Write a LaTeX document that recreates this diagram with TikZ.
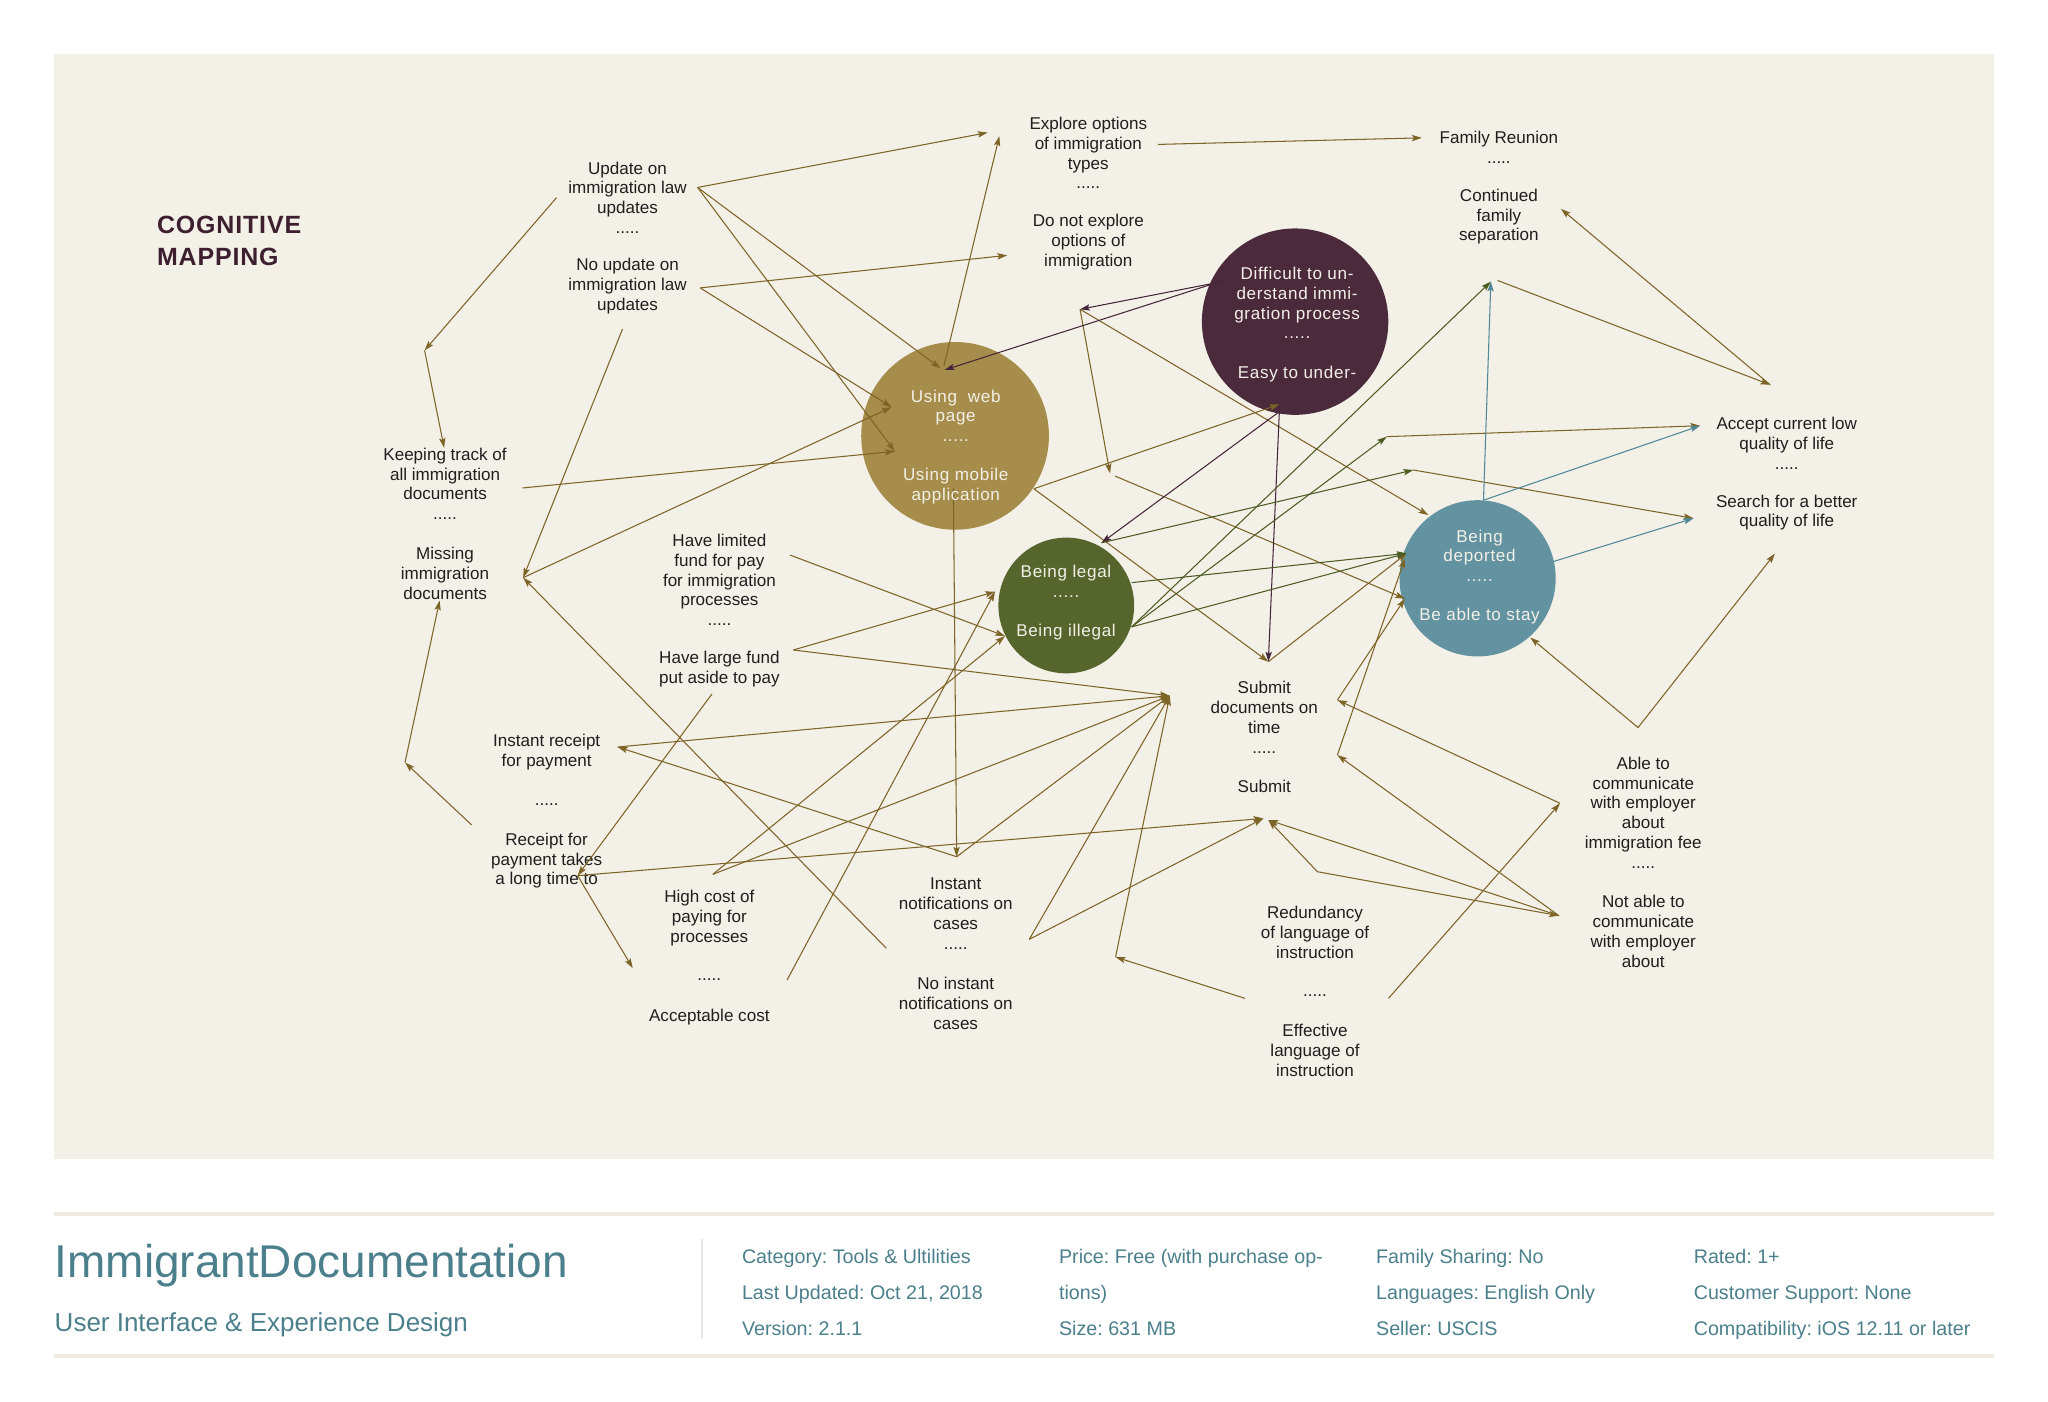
\documentclass[tikz,border=0pt]{standalone}
\usepackage{fontspec}
\setmainfont{Liberation Sans}
\newfontfamily\circfont{Liberation Sans}[LetterSpace=4]
\newfontfamily\headfont{Liberation Sans}[LetterSpace=3.5]
\usetikzlibrary{arrows.meta}
\frenchspacing
\definecolor{paper}{HTML}{F3F0E8}
\definecolor{rulec}{HTML}{EFEBE1}
\definecolor{ink}{HTML}{1F1F1F}
\definecolor{goldline}{HTML}{7D6427}
\definecolor{goldball}{HTML}{A68D4B}
\definecolor{plumball}{HTML}{4B2A3B}
\definecolor{plumline}{HTML}{45263A}
\definecolor{oliveball}{HTML}{56652B}
\definecolor{oliveline}{HTML}{4C5C22}
\definecolor{tealball}{HTML}{6393A0}
\definecolor{tealline}{HTML}{4F8796}
\definecolor{headplum}{HTML}{3D1F30}
\definecolor{foot}{HTML}{4A7F8B}
\tikzset{%
  lbl/.style     = {align=center, inner sep=0pt, text=ink,%
                    font=\fontsize{13}{15.1}\selectfont},%
  ball/.style    = {circle, inner sep=0pt, draw=none, minimum size=#1},%
  balltxt/.style = {align=center, inner sep=0pt, text=paper,%
                    font=\circfont\fontsize{13}{15}\selectfont},%
  info/.style    = {anchor=base west, inner sep=0pt, text=foot,%
                    font=\fontsize{15}{18}\selectfont},%
  tip/.style     = {-{Stealth[length=7.5pt,width=4.8pt,inset=1.5pt]},%
                    line width=0.8pt}%
}

\begin{document}
\begin{tikzpicture}[x=1pt,y=-1pt,
	garr/.style = {tip, draw=goldline},
	parr/.style = {tip, draw=plumline},
	oarr/.style = {tip, draw=oliveline},
	tarr/.style = {tip, draw=tealline}]
	\useasboundingbox (0,0) rectangle (1560,1067.2);
	\fill[paper] (41,41) rectangle (1519,883);
	\node[anchor=west, align=left, inner sep=0pt, text=headplum,
		font=\headfont\bfseries\fontsize{19}{24.1}\selectfont] (head) at (119.4,183.7) {COGNITIVE\\MAPPING};
	% circles
	\node[ball=143, fill=goldball] (web) at (727.5,332) {};
	\node[ball=142, fill=plumball] (hard) at (986.5,245) {};
	\node[ball=103.4, fill=oliveball] (legal) at (812.2,461.2) {};
	\node[ball=119, fill=tealball] (deport) at (1125.5,440.5) {};
	% labels
	\node[lbl] (upd) at (478,150.5) {Update on\\immigration law\\updates\\.....};
	\node[lbl] (noupd) at (478,217.8) {No update on\\immigration law\\updates};
	\node[lbl] (expl) at (829,116.5) {Explore options\\of immigration\\types\\.....};
	\node[lbl] (noexp) at (829,184.3) {Do not explore\\options of\\immigration};
	\node[lbl] (fam) at (1141.7,112) {Family Reunion\\.....};
	\node[lbl] (cont) at (1141.7,165.1) {Continued\\family\\separation};
	\node[lbl] (keep) at (339,368.5) {Keeping track of\\all immigration\\documents\\.....};
	\node[lbl] (miss) at (339,436.7) {Missing\\immigration\\documents};
	\node[lbl] (lim) at (548,441.7) {Have limited\\fund for pay\\for immigration\\processes\\.....};
	\node[lbl] (large) at (548,509.5) {Have large fund\\put aside to pay};
	\node[lbl] (instr) at (416.4,572.6) {Instant receipt\\for payment};
	\node[lbl] (recdots) at (416.4,613) {.....};
	\node[lbl] (rec) at (416.4,655.6) {Receipt for\\payment takes\\a long time to};
	\node[lbl] (high) at (540.3,699.5) {High cost of\\paying for\\processes};
	\node[lbl] (highdots) at (540.3,746.5) {.....};
	\node[lbl] (cheap) at (540.3,774.4) {Acceptable cost};
	\node[lbl] (instn) at (728,696) {Instant\\notifications on\\cases\\.....};
	\node[lbl] (noinst) at (728,764.2) {No instant\\notifications on\\cases};
	\node[lbl] (subm) at (963,546.4) {Submit\\documents on\\time\\.....};
	\node[lbl] (subm2) at (963,598.7) {Submit};
	\node[lbl] (red) at (1001.7,710.3) {Redundancy\\of language of\\instruction};
	\node[lbl] (reddots) at (1001.7,758) {.....};
	\node[lbl] (eff) at (1001.7,800.3) {Effective\\language of\\instruction};
	\node[lbl] (acc) at (1361,337.7) {Accept current low\\quality of life\\.....};
	\node[lbl] (srch) at (1361,390.5) {Search for a better\\quality of life};
	\node[lbl] (able) at (1251.7,619) {Able to\\communicate\\with employer\\about\\immigration fee\\.....};
	\node[lbl] (notab) at (1251.7,709.5) {Not able to\\communicate\\with employer\\about};
	% connector ends
	\coordinate (updE) at (531.4,142.8);
	\coordinate (updW) at (423.9,150.6);
	\coordinate (noupdE) at (533.3,219.3);
	\coordinate (noupdS) at (474.2,250.6);
	\coordinate (explA) at (752.3,101);
	\coordinate (explB) at (761.2,103.7);
	\coordinate (explE) at (882,110);
	\coordinate (famW) at (1083,105);
	\coordinate (noexpW) at (767.2,194.5);
	\coordinate (webT) at (716.5,280.6);
	\coordinate (webP) at (719.5,281.8);
	\coordinate (webTop) at (719,278.8);
	\coordinate (webW1) at (681.6,343.8);
	\coordinate (webW2) at (679.2,310.1);
	\coordinate (webB) at (726.2,372);
	\coordinate (webE) at (787.5,372.3);
	\coordinate (bendA) at (323.4,266.9);
	\coordinate (keepN) at (338.3,341.1);
	\coordinate (keepE) at (398,371.7);
	\coordinate (missE) at (398.5,440);
	\coordinate (missS) at (334.9,457.4);
	\coordinate (bendB) at (308.5,580.8);
	\coordinate (recNW) at (359.3,628.4);
	\coordinate (recE) at (440,667);
	\coordinate (noinstNW) at (675.1,722.3);
	\coordinate (limE) at (601.8,422.8);
	\coordinate (largeE) at (604.3,495.1);
	\coordinate (largeS) at (542.3,528.6);
	\coordinate (grnUL) at (757.9,450.7);
	\coordinate (grnLL) at (765.5,484.5);
	\coordinate (highD) at (482,737.5);
	\coordinate (instrE) at (470.5,569);
	\coordinate (instnN) at (728.7,652.6);
	\coordinate (highN) at (543,666);
	\coordinate (cheapNE) at (599.5,746.5);
	\coordinate (subD) at (891,530);
	\coordinate (subL1) at (962.3,623.4);
	\coordinate (subL2) at (966.1,624.6);
	\coordinate (subT) at (966.1,504);
	\coordinate (hardB) at (974.5,308);
	\coordinate (hardS) at (974.5,313.6);
	\coordinate (hardW1) at (921.7,216.3);
	\coordinate (hardW2) at (933,213.3);
	\coordinate (pa) at (822.7,235.6);
	\coordinate (pa2) at (845.5,360.6);
	\coordinate (pb) at (849.3,362.6);
	\coordinate (depUL) at (1088,392.3);
	\coordinate (depL1) at (1071.5,421.5);
	\coordinate (depL2) at (1070.2,456);
	\coordinate (depL3) at (1070.2,425.3);
	\coordinate (legT) at (839,413.5);
	\coordinate (legE1) at (862,443.8);
	\coordinate (legE2) at (862,477.5);
	\coordinate (gA) at (1076.6,358);
	\coordinate (gB) at (1056.3,332.6);
	\coordinate (contS) at (1135.6,214.5);
	\coordinate (contB) at (1140.7,213.6);
	\coordinate (depN) at (1130,381);
	\coordinate (depE) at (1183,427.8);
	\coordinate (accW) at (1295,324.3);
	\coordinate (srchW) at (1290,394.8);
	\coordinate (fp) at (1348.4,293.1);
	\coordinate (contSE) at (1189,159.1);
	\coordinate (ableB) at (1247.7,554.2);
	\coordinate (depSE) at (1165.6,485.6);
	\coordinate (srchS) at (1352,421.7);
	\coordinate (ableW) at (1188.3,611.9);
	\coordinate (ja) at (1018.7,533.2);
	\coordinate (notabW) at (1187.5,697.5);
	\coordinate (jb) at (1018.7,575.1);
	\coordinate (effNE) at (1057.6,760.5);
	\coordinate (effNW) at (948.4,760.5);
	\coordinate (jc) at (849.7,729);
	\coordinate (redW) at (784,715.5);
	\coordinate (jd) at (1003.5,664);
	% connectors
	\path (updE) edge[garr] (explA) edge[garr] (webT) edge[garr] (webW1);
	\path (noupdE) edge[garr] (noexpW) edge[garr] (webW2);
	\path (updW) edge[garr] (bendA);
	\path (bendA) edge[garr] (keepN);
	\path (noupdS) edge[garr] (missE);
	\path (keepE) edge[garr] (webW1);
	\path (missE) edge[garr] (webW2);
	\path (noinstNW) edge[garr] (missE);
	\path (bendB) edge[garr] (missS);
	\path (recNW) edge[garr] (bendB);
	\path (limE) edge[garr] (grnLL);
	\path (largeE) edge[garr] (grnUL) edge[garr] (subD);
	\path (largeS) edge[garr] (recE);
	\path (recE) edge[garr] (highD) edge[garr] (subL1);
	\path (instnN) edge[garr] (instrE) edge[garr] (subD);
	\path (instrE) edge[garr] (subD);
	\path (webB) edge[garr] (instnN);
	\path (highN) edge[garr] (grnLL) edge[garr] (subD);
	\path (cheapNE) edge[garr] (grnUL);
	\path (explE) edge[garr] (famW);
	\path (webTop) edge[garr] (explB);
	\path (webE) edge[garr] (hardB) edge[garr] (subT);
	\path (pa) edge[garr] (pa2) edge[garr] (depUL);
	\path (pb) edge[garr] (depL2);
	\path (gA) edge[garr] (srchW);
	\path (gB) edge[garr] (accW);
	\path (contB) edge[garr] (fp);
	\path (fp) edge[garr] (contSE);
	\path (ableB) edge[garr] (depSE) edge[garr] (srchS);
	\path (ableW) edge[garr] (ja);
	\path (ja) edge[garr] (depL2);
	\path (notabW) edge[garr] (jb) edge[garr] (subL2);
	\path (jb) edge[garr] (depL3);
	\path (subT) edge[garr] (depL1);
	\path (effNE) edge[garr] (ableW);
	\path (effNW) edge[garr] (jc);
	\path (jc) edge[garr] (subD);
	\path (redW) edge[garr] (subL1) edge[garr] (subD);
	\path (jd) edge[garr] (subL2) edge[garr] (notabW);
	\path (hardW1) edge[parr] (pa);
	\path (hardW2) edge[parr] (webP);
	\path (hardS) edge[parr] (subT) edge[parr] (legT);
	\path (legT) edge[oarr] (gA);
	\path (legE1) edge[oarr] (depL1);
	\path (legE2) edge[oarr] (depL1) edge[oarr] (gB) edge[oarr] (contS);
	\path (depN) edge[tarr] (contS) edge[tarr] (accW);
	\path (depE) edge[tarr] (srchW);
	% circle texts
	\node[balltxt] (webt) at (728,340.5) {Using\ \ web\\page\\.....\\[15pt]Using mobile\\application};
	\node[balltxt] (hardt) at (988,247.3) {Difficult to un-\\derstand immi-\\gration process\\.....\\[15pt]Easy to under-};
	\node[balltxt] (legalt) at (812,459.2) {Being legal\\.....\\[15pt]Being illegal};
	\node[balltxt] (deportt) at (1127,439.5) {Being\\deported\\.....\\[15pt]Be able to stay};
	% footer
	\fill[rulec] (41,923.3) rectangle (1519,926.6);
	\fill[rulec] (41,1031.3) rectangle (1519,1034.6);
	\draw[black!10, line width=1.5pt] (535,944) -- (535,1019);
	\node[anchor=base west, inner sep=0pt, text=foot, font=\fontsize{35}{40}\selectfont] (app) at (41.5,973) {ImmigrantDocumentation};
	\node[anchor=base west, inner sep=0pt, text=foot, font=\fontsize{19.8}{24}\selectfont] (tag) at (41.5,1014) {User Interface \& Experience Design};
	\node[info] (icat) at (565,962.5) {Category: Tools \& Ultilities};
	\node[info] (ilast) at (565,990) {Last Updated: Oct 21, 2018};
	\node[info] (iver) at (565,1017.5) {Version: 2.1.1};
	\node[info] (iprice) at (806.5,962.5) {Price: Free (with purchase op-};
	\node[info] (ipricex) at (806.5,990) {tions)};
	\node[info] (isize) at (806.5,1017.5) {Size: 631 MB};
	\node[info] (ifam) at (1048,962.5) {Family Sharing: No};
	\node[info] (ilang) at (1048,990) {Languages: English Only};
	\node[info] (isell) at (1048,1017.5) {Seller: USCIS};
	\node[info] (irate) at (1290,962.5) {Rated: 1+};
	\node[info] (isupp) at (1290,990) {Customer Support: None};
	\node[info] (icomp) at (1290,1017.5) {Compatibility: iOS 12.11 or later};
\end{tikzpicture}
\end{document}
